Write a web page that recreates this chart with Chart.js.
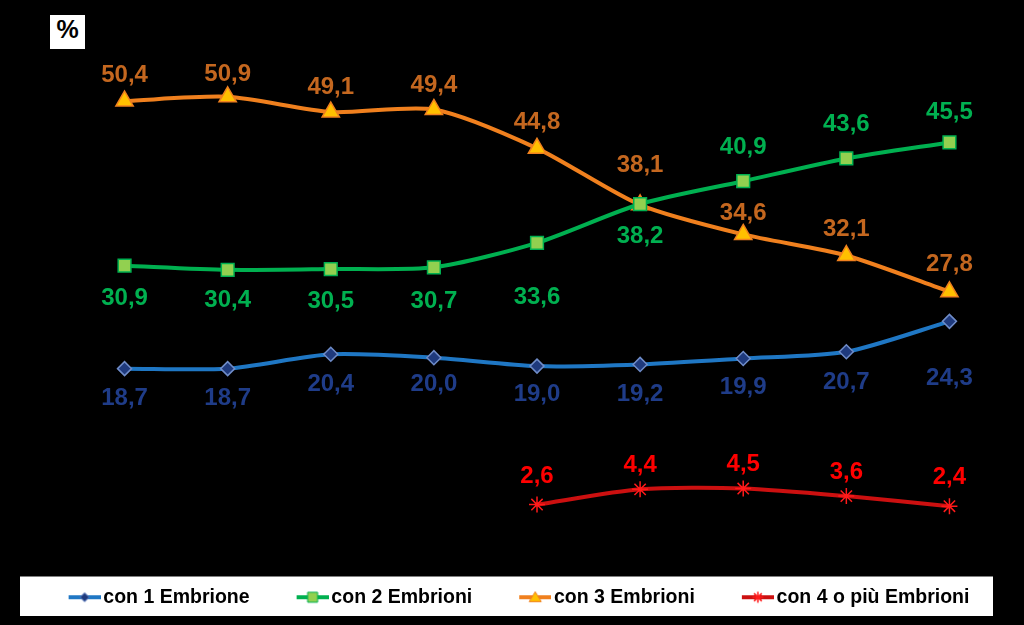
<!DOCTYPE html>
<html>
<head>
<meta charset="utf-8">
<script src="https://cdn.jsdelivr.net/npm/chart.js@4"></script>
<style>
    html, body { margin: 0; padding: 0; background: #000; }
    #wrap { position: relative; width: 1024px; height: 625px; }
    #pct {
        position: absolute; left: 50px; top: 15px; width: 35px; height: 34px;
        background: #fff; color: #000; text-align: center; line-height: 34px;
        font: bold 25px "Liberation Sans", Arial, sans-serif;
    }
</style>
</head>
<body>
<div id="wrap">
    <canvas id="chart" width="1024" height="625"></canvas>
    <div id="pct">%</div>
</div>
<script>
    // dati
    const years = ['2005', '2006', '2007', '2008', '2009', '2010', '2011', '2012', '2013'];
    const seriesNames = ['con 1 Embrione', 'con 2 Embrioni', 'con 3 Embrioni', 'con 4 o più Embrioni'];
    const con1 = [18.7, 18.7, 20.4, 20.0, 19.0, 19.2, 19.9, 20.7, 24.3];
    const con2 = [30.9, 30.4, 30.5, 30.7, 33.6, 38.2, 40.9, 43.6, 45.5];
    const con3 = [50.4, 50.9, 49.1, 49.4, 44.8, 38.1, 34.6, 32.1, 27.8];
    const con4 = [null, null, null, null, 2.6, 4.4, 4.5, 3.6, 2.4];

    // spostamento verticale delle etichette (px)
    const dy1 = [30, 30, 30, 27, 28, 30, 29, 31, 57];
    const dy2 = [33, 31, 32, 34, 55, 32, -34, -34, -30];
    const dy3 = [-26, -22, -25, -24, -26, -39, -21, -26, -27];
    const dy4 = [0, 0, 0, 0, -28, -24, -24, -24, -29];

    const FONT = '"Liberation Sans", Arial, sans-serif';

    function marker(ctx, type, x, y, r) {
        ctx.beginPath();
        if (type === 'diamond') {
            ctx.moveTo(x, y - r); ctx.lineTo(x + r, y); ctx.lineTo(x, y + r); ctx.lineTo(x - r, y);
            ctx.closePath(); ctx.fill(); ctx.stroke();
        } else if (type === 'square') {
            ctx.rect(x - r, y - r, 2 * r, 2 * r); ctx.fill(); ctx.stroke();
        } else if (type === 'triangle') {
            ctx.moveTo(x, y - r); ctx.lineTo(x + r * 1.1, y + r * 0.8); ctx.lineTo(x - r * 1.1, y + r * 0.8);
            ctx.closePath(); ctx.fill(); ctx.stroke();
        } else {
            ctx.moveTo(x - r, y); ctx.lineTo(x + r, y);
            ctx.moveTo(x - r * 0.7, y - r * 0.7); ctx.lineTo(x + r * 0.7, y + r * 0.7);
            ctx.moveTo(x - r * 0.7, y + r * 0.7); ctx.lineTo(x + r * 0.7, y - r * 0.7);
            ctx.moveTo(x, y - r); ctx.lineTo(x, y + r);
            ctx.stroke();
        }
    }

    // icona legenda: linea + marcatore, spazio vuoto a sinistra
    function legendIcon(line, type, fill, border, r) {
        const c = document.createElement('canvas');
        c.width = 76; c.height = 20;
        const ctx = c.getContext('2d');
        ctx.strokeStyle = line; ctx.lineWidth = 4;
        ctx.beginPath(); ctx.moveTo(44, 10); ctx.lineTo(76, 10); ctx.stroke();
        ctx.fillStyle = fill; ctx.strokeStyle = border; ctx.lineWidth = type === 'star' ? 1.5 : 1;
        marker(ctx, type, 60, 10, r);
        return c;
    }

    const icons = [
        legendIcon('#1F77C4', 'diamond', '#1F3A7D', '#5B7BC0', 4.5),
        legendIcon('#00B050', 'square', '#92D050', '#00B050', 5),
        legendIcon('#F0801E', 'triangle', '#FFC000', '#F0801E', 5.5),
        legendIcon('#CC1010', 'star', '#FF1A1A', '#FF1A1A', 5.5)
    ];

    const valueLabels = {
        id: 'valueLabels',
        afterDatasetsDraw(chart) {
            const ctx = chart.ctx;
            ctx.save();
            ctx.font = 'bold 24px ' + FONT;
            ctx.textAlign = 'center';
            ctx.textBaseline = 'middle';
            chart.data.datasets.forEach(function (ds, i) {
                chart.getDatasetMeta(i).data.forEach(function (pt, j) {
                    const v = ds.data[j];
                    if (v == null) return;
                    ctx.fillStyle = ds.labelColor;
                    ctx.fillText(v.toFixed(1).replace('.', ','), pt.x, pt.y + ds.labelDy[j]);
                });
            });
            ctx.restore();
        }
    };

    const legendBox = {
        id: 'legendBox',
        beforeDraw(chart) {
            const lg = chart.legend;
            const ctx = chart.ctx;
            ctx.save();
            ctx.fillStyle = '#fff';
            ctx.fillRect(20, lg.top - 1, 973, lg.height);
            ctx.restore();
        }
    };

    new Chart(document.getElementById('chart'), {
        type: 'line',
        data: {
            labels: years,
            datasets: [{
                label: seriesNames[0],
                data: con1,
                borderColor: '#1F77C4',
                borderWidth: 4,
                pointStyle: 'rectRot',
                pointRadius: 7,
                pointBackgroundColor: '#1F3A7D',
                pointBorderColor: '#6F8CC8',
                pointBorderWidth: 1.5,
                labelColor: '#1F3C88',
                labelDy: dy1
            }, {
                label: seriesNames[1],
                data: con2,
                borderColor: '#00B050',
                borderWidth: 4,
                pointStyle: 'rect',
                pointRadius: 9,
                pointBackgroundColor: '#92D050',
                pointBorderColor: '#00B050',
                pointBorderWidth: 1.5,
                labelColor: '#00B050',
                labelDy: dy2
            }, {
                label: seriesNames[2],
                data: con3,
                borderColor: '#F0801E',
                borderWidth: 4,
                pointStyle: 'triangle',
                pointRadius: 10,
                pointBackgroundColor: '#FFC000',
                pointBorderColor: '#F0801E',
                pointBorderWidth: 1.5,
                labelColor: '#C4671F',
                labelDy: dy3
            }, {
                label: seriesNames[3],
                data: con4,
                borderColor: '#CC1010',
                borderWidth: 4,
                pointStyle: 'star',
                pointRadius: 8,
                pointBackgroundColor: '#FF1A1A',
                pointBorderColor: '#FF1A1A',
                pointBorderWidth: 1.5,
                labelColor: '#FF0000',
                labelDy: dy4
            }]
        },
        options: {
            responsive: false,
            animation: false,
            devicePixelRatio: 1,
            layout: { padding: { left: 0, right: 23, top: 20, bottom: 8 } },
            elements: { line: { tension: 0.25 } },
            plugins: {
                tooltip: { enabled: false },
                legend: {
                    position: 'bottom',
                    labels: {
                        usePointStyle: true,
                        pointStyleWidth: 62,
                        padding: 10,
                        color: '#000',
                        font: { family: FONT, size: 19.5, weight: 'bold' },
                        generateLabels: function (chart) {
                            const items = Chart.defaults.plugins.legend.labels.generateLabels(chart);
                            items.forEach(function (it, i) { it.pointStyle = icons[i]; });
                            return items;
                        }
                    }
                }
            },
            scales: {
                x: {
                    offset: true,
                    ticks: { display: false },
                    grid: { display: false },
                    border: { display: false },
                    afterFit: function (s) { s.height = 51; }
                },
                y: {
                    min: 0,
                    max: 60,
                    ticks: { display: false },
                    grid: { display: false },
                    border: { display: false },
                    afterFit: function (s) { s.width = 73; }
                }
            }
        },
        plugins: [legendBox, valueLabels]
    });
</script>
</body>
</html>
